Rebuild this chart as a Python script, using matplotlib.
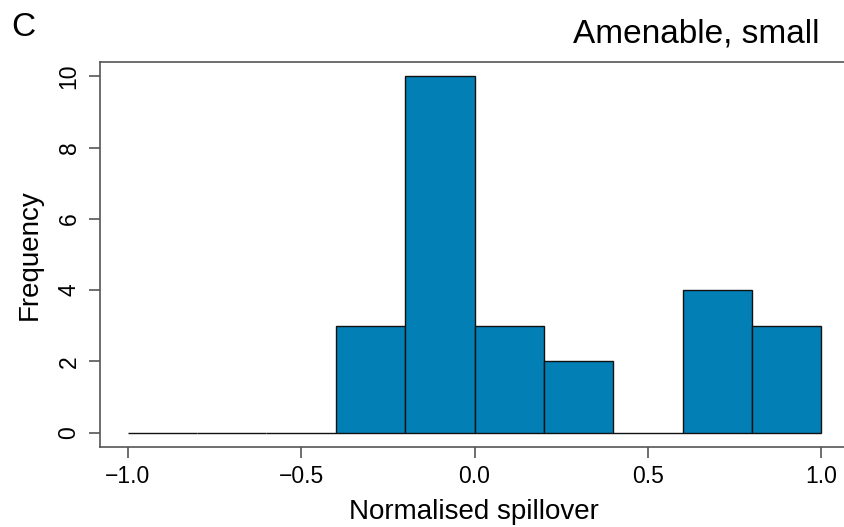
import matplotlib
matplotlib.use('Agg')
import matplotlib.pyplot as plt
import numpy as np

plt.rcParams['font.family'] = ['Liberation Sans', 'DejaVu Sans']

# histogram bins and counts
bin_edges = [-1.0, -0.8, -0.6, -0.4, -0.2, 0.0, 0.2, 0.4, 0.6, 0.8, 1.0]
counts = [0, 0, 0, 3, 10, 3, 2, 0, 4, 3]
x_ticks = [-1.0, -0.5, 0.0, 0.5, 1.0]
y_ticks = [0, 2, 4, 6, 8, 10]

bar_color = '#027FB5'
frame_color = '#555555'

fig = plt.figure(figsize=(8.45, 5.27), dpi=100)
ax = fig.add_axes([100 / 845, 80 / 527, 749 / 845, 385 / 527])

lefts = np.array(bin_edges[:-1])
widths = np.diff(bin_edges)
ax.bar(lefts, counts, width=widths, align='edge', color=bar_color,
       edgecolor='#111111', linewidth=1.0)

ax.set_xlim(-1.08, 1.08)
ax.set_ylim(-0.4, 10.4)

# frame's right side falls outside the picture in the original
ax.spines['right'].set_visible(False)
for s in ax.spines.values():
    s.set_color(frame_color)
    s.set_linewidth(1.2)

ax.set_xticks(x_ticks)
ax.set_xticklabels(['\u22121.0', '\u22120.5', '0.0', '0.5', '1.0'])
ax.set_yticks(y_ticks)
ax.set_yticklabels([str(v) for v in y_ticks], rotation=90, va='center')
ax.tick_params(axis='both', direction='out', length=8, width=1.2,
               color=frame_color, labelsize=16.5, pad=5)
ax.tick_params(axis='y', pad=6)

fig.text(474 / 845, 1 - 512 / 527, 'Normalised spillover', fontsize=20,
         ha='center', va='center')
fig.text(30 / 845, 1 - 255 / 527, 'Frequency', fontsize=20,
         ha='center', va='center', rotation=90)

fig.text(820 / 845, 1 - 34 / 527, 'Amenable, small', fontsize=24,
         ha='right', va='center')
fig.text(11 / 845, 1 - 27 / 527, 'C', fontsize=24, ha='left', va='center')

plt.savefig('out.png', dpi=100)
plt.close()
